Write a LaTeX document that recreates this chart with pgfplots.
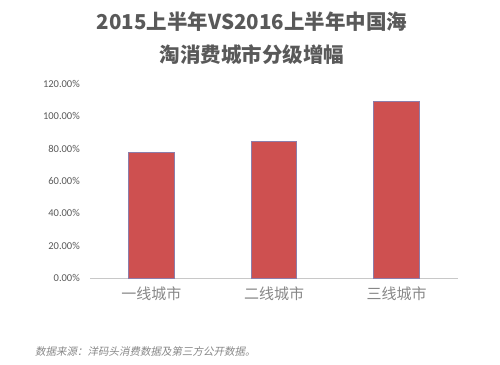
\documentclass[border=0pt]{standalone}
\usepackage{pgfplots}
\pgfplotsset{compat=1.18}
\usepackage{fontspec}
\setmainfont{Carlito}
\newfontfamily\cjk{Noto Sans CJK SC}
\newfontfamily\cjkit[FakeSlant=0.2]{Noto Sans CJK SC}
\definecolor{titlegray}{RGB}{89,89,89}
\definecolor{labgray}{RGB}{135,135,135}
\definecolor{axgray}{RGB}{200,200,200}
\definecolor{barred}{RGB}{206,80,80}
\definecolor{baredge}{RGB}{140,125,170}
\begin{document}
\begin{tikzpicture}[x=1pt,y=1pt]
\useasboundingbox (0,0) rectangle (500,364);
\begin{axis}[
  at={(90pt,86pt)}, anchor=south west,
  scale only axis, width=368pt, height=194pt,
  xmin=-0.5, xmax=2.5, ymin=0, ymax=120,
  axis x line=bottom, axis y line=left,
  x axis line style={draw=axgray, line width=1pt, -},
  y axis line style={draw=none},
  major tick length=0pt,
  xtick={0,1,2},
  xticklabels={一线城市,二线城市,三线城市},
  xticklabel style={font=\cjk\fontsize{15}{15}\selectfont, text=labgray, yshift=-5pt},
  ytick={0,20,40,60,80,100,120},
  yticklabels={0.00\%,20.00\%,40.00\%,60.00\%,80.00\%,100.00\%,120.00\%},
  yticklabel style={font=\fontsize{10.5}{10.5}\selectfont, text=titlegray, anchor=east, inner sep=0pt, xshift=-10pt},
  clip=false,
]
\addplot[ybar, bar width=45.5pt, fill=barred, draw=baredge, line width=0.9pt]
  coordinates {(0,77.9) (1,84.7) (2,109.2)};
\end{axis}
\node[font=\cjk\bfseries\fontsize{20.5}{20.5}\selectfont, text=titlegray] at (252,342) {2015上半年VS2016上半年中国海};
\node[font=\cjk\bfseries\fontsize{20.5}{20.5}\selectfont, text=titlegray] at (252,309) {淘消费城市分级增幅};
\node[font=\cjkit\fontsize{10.5}{10.5}\selectfont, text=labgray, anchor=west, inner sep=0pt] at (35,13) {数据来源：洋码头消费数据及第三方公开数据。};
\end{tikzpicture}
\end{document}
